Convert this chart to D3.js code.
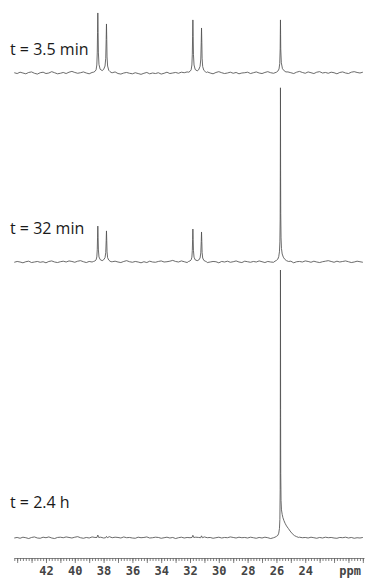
<!DOCTYPE html>
<html><head><meta charset="utf-8">
<script src="https://cdn.jsdelivr.net/npm/d3@7"></script>
<style>html,body{margin:0;padding:0;background:#fff;} svg{display:block}</style>
</head><body><svg id="c" width="366" height="579"></svg>
<script>
// ---------- DATA ----------
const traceLabels = ["t = 3.5 min", "t = 32 min", "t = 2.4 h"];
const gridStart = 44.2, gridStep = 0.2;   // baseline samples (ppm)
const noise1 = [
0.1,-0.2,0.3,0.0,-0.3,0.2,0.4,-0.1,-0.4,0.1,
0.3,-0.2,0.0,0.5,0.1,-0.3,-0.1,0.2,-0.2,0.3,
0.6,0.2,-0.1,0.1,0.4,0.0,-0.3,0.2,0.5,0.3,
-0.2,0.0,0.3,-0.1,0.1,0.4,-0.2,-0.4,0.0,0.2,
-0.1,-0.3,0.1,-0.2,-0.5,-0.1,0.2,-0.3,0.0,-0.2,
0.1,-0.4,-0.1,0.3,-0.2,0.0,0.2,-0.1,0.3,0.1,
0.4,0.2,-0.1,0.0,0.3,-0.2,0.1,0.4,0.0,-0.3,
0.2,0.5,0.1,-0.2,0.0,0.3,-0.1,0.2,-0.3,0.0,
0.1,0.3,-0.2,0.1,0.4,0.0,-0.2,0.2,0.5,0.1,
-0.1,0.3,0.0,-0.3,0.2,0.4,0.1,-0.2,0.3,0.6,
0.2,-0.1,0.4,0.1,-0.2,0.3,0.5,0.0,0.2,-0.1,
0.3,0.1,-0.3,0.2,0.4,0.0,-0.2,0.3,0.5,0.2,
0.0,0.3];
const noise2 = [
-0.1,0.2,0.0,-0.3,0.1,0.3,-0.2,0.0,0.2,-0.1,
0.1,-0.3,0.2,0.4,0.0,-0.2,0.1,0.3,0.0,0.4,
0.2,-0.1,0.3,0.5,0.1,-0.2,0.2,0.0,0.3,-0.1,
0.0,0.4,0.2,-0.3,0.1,0.3,0.0,-0.2,0.2,0.5,
0.1,-0.1,0.2,0.0,-0.3,0.1,-0.2,0.3,0.0,-0.1,
0.2,0.4,0.0,0.1,0.3,0.6,0.2,0.0,0.4,0.1,
-0.2,0.3,0.0,0.2,-0.1,0.1,0.3,-0.2,0.0,0.2,
0.1,-0.3,0.2,0.0,0.3,-0.1,0.1,0.4,0.0,-0.2,
0.3,0.1,-0.1,0.2,0.0,0.4,0.1,-0.2,0.2,0.0,
-0.1,0.3,0.1,-0.2,0.2,0.0,0.3,-0.3,0.1,0.2,
0.0,0.4,0.2,-0.1,0.3,0.0,-0.2,0.1,0.3,0.5,
0.2,-0.1,0.3,0.0,0.2,0.4,0.1,-0.2,0.0,0.3,
0.1,-0.1];
const noise3 = [
0.0,0.2,-0.1,0.3,0.1,-0.2,0.2,0.4,0.0,-0.1,
0.3,0.1,0.4,0.0,-0.2,0.2,0.3,0.1,0.4,0.2,
0.0,0.3,0.5,0.1,-0.1,0.2,0.0,0.4,0.2,0.1,
0.3,0.0,0.2,0.5,0.1,0.3,0.2,0.0,0.4,0.1,
0.2,0.0,-0.1,0.3,0.1,0.2,0.4,0.0,0.1,0.3,
0.2,-0.1,0.1,0.3,0.0,0.2,-0.2,0.1,0.3,0.0,
0.2,0.1,-0.1,0.3,0.2,0.0,0.4,0.1,0.2,-0.1,
0.1,0.3,0.0,0.2,0.1,0.4,0.2,0.0,0.3,0.1,
0.2,0.0,0.3,0.1,-0.1,0.2,0.0,0.3,0.1,-0.2,
0.1,0.0,0.2,-0.1,0.3,0.1,0.4,0.2,0.0,0.3,
0.1,0.2,0.0,0.3,0.1,-0.1,0.2,0.0,0.3,0.1,
0.2,0.0,-0.1,0.2,0.1,0.3,0.0,0.2,-0.1,0.1,
0.0,0.2];

// peak regions: [ppm, intensity]
const peaks1 = [
 [[38.70,0.3],[38.60,0.6],[38.52,1.2],[38.47,3.0],[38.44,7.5],[38.42,15.0],[38.40,22.4],[38.38,15.0],[38.36,7.5],[38.32,3.2],[38.24,1.4],[38.10,0.9],[38.00,1.3],[37.90,2.6],[37.85,5.5],[37.82,12.5],[37.80,18.3],[37.78,12.5],[37.76,6.0],[37.72,2.6],[37.64,1.0],[37.55,0.5],[37.48,0.2]],
 [[32.10,0.3],[32.00,0.6],[31.92,1.2],[31.87,3.0],[31.84,7.0],[31.82,13.5],[31.80,19.8],[31.78,13.5],[31.76,6.8],[31.72,3.0],[31.64,1.3],[31.50,0.8],[31.40,1.2],[31.30,2.5],[31.25,5.2],[31.22,11.5],[31.20,16.8],[31.18,11.5],[31.16,5.5],[31.12,2.4],[31.04,1.0],[30.94,0.5],[30.86,0.2]],
 [[26.00,0.3],[25.90,0.7],[25.82,1.5],[25.77,3.5],[25.74,9.0],[25.73,14.5],[25.72,19.8],[25.71,14.5],[25.70,9.0],[25.66,3.8],[25.58,1.6],[25.46,0.8],[25.34,0.4]]
];
const peaks2 = [
 [[38.70,0.2],[38.60,0.4],[38.52,0.8],[38.47,1.9],[38.44,4.6],[38.42,9.0],[38.40,13.4],[38.38,9.0],[38.36,4.5],[38.32,1.9],[38.24,0.9],[38.10,0.5],[38.00,0.8],[37.90,1.6],[37.85,3.5],[37.82,7.9],[37.80,11.6],[37.78,7.9],[37.76,3.8],[37.72,1.6],[37.64,0.7],[37.55,0.3],[37.48,0.1]],
 [[32.10,0.2],[32.00,0.4],[31.92,0.8],[31.87,1.8],[31.84,4.3],[31.82,8.3],[31.80,12.3],[31.78,8.3],[31.76,4.2],[31.72,1.8],[31.64,0.8],[31.50,0.5],[31.40,0.7],[31.30,1.5],[31.25,3.4],[31.22,7.6],[31.20,11.2],[31.18,7.6],[31.16,3.6],[31.12,1.5],[31.04,0.6],[30.94,0.3],[30.86,0.1]],
 [[26.10,0.3],[26.00,0.6],[25.90,1.1],[25.84,2.0],[25.79,3.8],[25.76,7.5],[25.74,16],[25.73,32],[25.72,65],[25.71,34],[25.70,18],[25.68,9.0],[25.65,5.0],[25.60,3.0],[25.52,1.8],[25.42,1.0],[25.30,0.5],[25.16,0.2]]
];
const peaks3 = [
 [[38.46,0.2],[38.40,1.1],[38.34,0.2]],
 [[37.86,0.1],[37.80,0.6],[37.74,0.1]],
 [[31.86,0.2],[31.80,1.0],[31.74,0.2]],
 [[31.26,0.1],[31.20,0.8],[31.14,0.1]],
 [[26.10,0.3],[26.00,0.6],[25.90,1.0],[25.84,1.8],[25.79,3.5],[25.76,7.0],[25.74,18],[25.73,45],[25.72,100],[25.71,48],[25.70,24],[25.68,14],[25.65,10.5],[25.60,8.8],[25.55,7.6],[25.48,6.5],[25.40,5.5],[25.30,4.5],[25.18,3.6],[25.05,2.6],[24.90,1.6],[24.75,0.9],[24.60,0.5],[24.45,0.2]]
];
const tickLabels = [42, 40, 38, 36, 34, 32, 30, 28, 26, 24];
const axisUnit = "ppm";

// ---------- LAYOUT ----------
const svg = d3.select("#c");
const x = d3.scaleLinear().domain([44.22, 19.92]).range([14, 364]);
const y = d3.scaleLinear().domain([0, 100]).range([0, -268]);
const baselines = [73, 262, 538];
const labelY = [55, 234, 508];

function build(noise, segs) {
  const pts = [];
  noise.forEach((v, i) => {
    const p = +(gridStart - i * gridStep).toFixed(2);
    if (!segs.some(s => p <= s[0][0] && p >= s[s.length - 1][0])) pts.push([p, v]);
  });
  segs.forEach(s => s.forEach(d => pts.push(d)));
  pts.sort((a, b) => b[0] - a[0]);
  return pts;
}
const spectra = [build(noise1, peaks1), build(noise2, peaks2), build(noise3, peaks3)];
const line = d3.line().x(d => x(d[0])).y(d => y(d[1]));

spectra.forEach((s, i) => {
  const g = svg.append("g").attr("transform", `translate(0,${baselines[i]})`);
  g.append("path").datum(s).attr("d", line)
    .attr("fill", "none").attr("stroke", "#505050").attr("stroke-width", 0.85)
    .attr("stroke-linejoin", "round");
  svg.append("text").attr("x", 10).attr("y", labelY[i]).text(traceLabels[i])
    .attr("font-family", "'Open Sans', sans-serif").attr("font-size", 16).attr("fill", "#1a1a1a");
});

// axis ruler
const axisY = 558;
const minor = d3.range(44.2, 19.9, -0.2).map(v => +v.toFixed(2));
const major = d3.range(44, 19.9, -1);
const gA = svg.append("g").attr("transform", `translate(0,${axisY})`);
gA.call(d3.axisBottom(x).tickValues(minor).tickSize(3).tickSizeOuter(0).tickFormat(""));
const gB = svg.append("g").attr("transform", `translate(0,${axisY})`);
gB.call(d3.axisBottom(x).tickValues(major).tickSize(5).tickFormat(""));
gB.select(".domain").remove();
const gC = svg.append("g").attr("transform", `translate(0,${axisY})`);
gC.call(d3.axisBottom(x).tickValues(tickLabels).tickSize(0).tickPadding(8).tickFormat(d3.format("d")));
gC.select(".domain").remove();
[gA, gB].forEach(g => g.selectAll("line,path").attr("stroke", "#666").attr("stroke-width", 0.8));
gC.selectAll("text").attr("font-family", "'DejaVu Sans Mono', monospace").attr("font-size", 12)
  .attr("font-weight", "bold").attr("fill", "#444");
gC.append("text").attr("x", 361).attr("y", 8).attr("dy", "0.71em").attr("text-anchor", "end")
  .text(axisUnit).attr("font-family", "'DejaVu Sans Mono', monospace").attr("font-size", 12)
  .attr("font-weight", "bold").attr("fill", "#444");
</script>
</body></html>
